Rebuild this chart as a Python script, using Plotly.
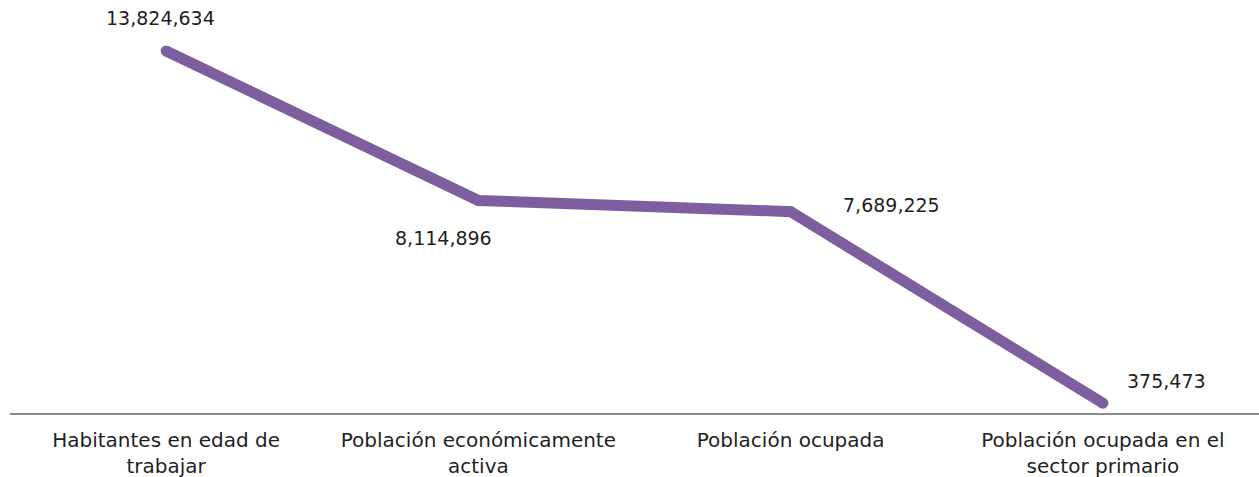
import plotly.graph_objects as go

categories = ["Habitantes en edad de<br>trabajar", "Población económicamente<br>activa",
              "Población ocupada", "Población ocupada en el<br>sector primario"]
values = [13824634, 8114896, 7689225, 375473]
labels = ["13,824,634", "8,114,896", "7,689,225", "375,473"]
label_xshift = [-6, -35, 101, 64]
label_yshift = [33, -38, 7, 22]

FONT = "DejaVu Sans"
fig = go.Figure()
fig.add_trace(go.Scatter(
    x=list(range(len(categories))), y=values, mode="lines+markers",
    line=dict(color="#7D5F9F", width=11),
    marker=dict(color="#7D5F9F", size=11, line=dict(width=0)),
    hoverinfo="skip"))

for i, (v, t) in enumerate(zip(values, labels)):
    fig.add_annotation(x=i, y=v, text=t, showarrow=False,
                       xshift=label_xshift[i], yshift=label_yshift[i],
                       font=dict(family=FONT, size=19, color="#1f1f1f"))

fig.update_layout(
    width=1259, height=477,
    margin=dict(l=10, r=0, t=0, b=64, autoexpand=False),
    plot_bgcolor="white", paper_bgcolor="white",
    showlegend=False,
    xaxis=dict(range=[-0.5, 3.5], tickvals=list(range(4)), ticktext=categories,
               automargin=False, ticklabelstandoff=8,
               showgrid=False, zeroline=False, showline=True, linecolor="#8c8c8c",
               linewidth=2, ticks="", tickfont=dict(family=FONT, size=20, color="#1f1f1f")),
    yaxis=dict(range=[0, 15.77e6], visible=False, showgrid=False, zeroline=False,
               automargin=False),
)
fig.write_html("out.html", config={"displayModeBar": False},
               post_script="document.body.style.margin='0';document.body.style.overflow='hidden';")
